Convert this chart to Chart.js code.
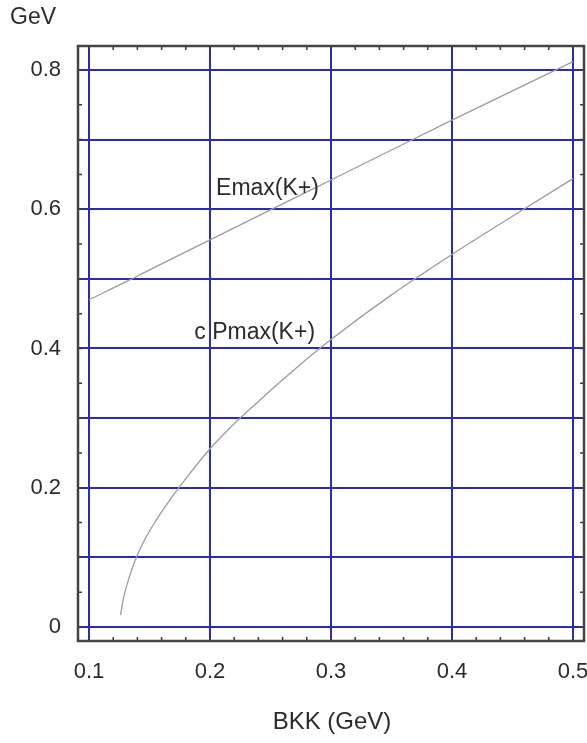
<!DOCTYPE html>
<html>
<head>
<meta charset="utf-8">
<script src="https://cdn.jsdelivr.net/npm/chart.js@4/dist/chart.umd.min.js"></script>
<style>
  html, body { margin: 0; padding: 0; background: #fff; }
  #wrap { width: 587px; height: 743px; }
</style>
</head>
<body>
<div id="wrap"><canvas id="chart" width="587" height="743"></canvas></div>
<script>
// Data
const xTicks = [0.1, 0.2, 0.3, 0.4, 0.5];
const yTicks = [0, 0.1, 0.2, 0.3, 0.4, 0.5, 0.6, 0.7, 0.8];

const emaxX = [0.1, 0.132, 0.15, 0.2, 0.25, 0.3, 0.35, 0.4, 0.45, 0.5];
const emaxY = [0.47, 0.497, 0.513, 0.556, 0.599, 0.642, 0.685, 0.728, 0.770, 0.812];

const pmaxX = [0.126, 0.129, 0.133, 0.138, 0.145, 0.155, 0.165, 0.18, 0.2, 0.22, 0.24, 0.26, 0.28, 0.3, 0.35, 0.4, 0.45, 0.5];
const pmaxY = [0.017, 0.045, 0.07, 0.095, 0.122, 0.152, 0.178, 0.213, 0.256, 0.292, 0.324, 0.355, 0.385, 0.413, 0.477, 0.535, 0.59, 0.644];

const labels = [
  { text: "Emax(K+)", x: 0.205, y: 0.630 },
  { text: "c Pmax(K+)", x: 0.187, y: 0.423 }
];

const FONT = "'Liberation Sans', Arial, sans-serif";
const TXT = "#2b2b2b";
const GRID = "#2c2cb0";

function pts(xs, ys) {
  return xs.map((x, i) => ({ x: x, y: ys[i] }));
}

// frame, inward minor ticks, free text
const decor = {
  id: "decor",
  afterDatasetsDraw(chart) {
    const ctx = chart.ctx;
    const a = chart.chartArea;
    const xs = chart.scales.x, ys = chart.scales.y;
    ctx.save();
    ctx.strokeStyle = "#3a3a3a";
    ctx.lineWidth = 1.5;
    ctx.beginPath();
    for (let v = 0.1; v <= 0.5001; v += 0.02) {
      const p = xs.getPixelForValue(v);
      ctx.moveTo(p, a.bottom); ctx.lineTo(p, a.bottom - 4);
      ctx.moveTo(p, a.top); ctx.lineTo(p, a.top + 4);
    }
    for (let v = 0; v <= 0.8001; v += 0.05) {
      const p = ys.getPixelForValue(v);
      ctx.moveTo(a.left, p); ctx.lineTo(a.left + 4, p);
      ctx.moveTo(a.right, p); ctx.lineTo(a.right - 4, p);
    }
    ctx.stroke();
    ctx.lineWidth = 2.5;
    ctx.strokeStyle = "#444";
    ctx.strokeRect(a.left, a.top, a.right - a.left, a.bottom - a.top);

    ctx.fillStyle = TXT;
    ctx.font = "23px " + FONT;
    ctx.textBaseline = "middle";
    ctx.textAlign = "left";
    labels.forEach(l => {
      ctx.fillText(l.text, xs.getPixelForValue(l.x), ys.getPixelForValue(l.y));
    });
    ctx.font = "23px " + FONT;
    ctx.fillText("GeV", 10, 18);
    ctx.textAlign = "center";
    ctx.font = "24px " + FONT;
    ctx.fillText("BKK (GeV)", 332, 722);
    ctx.restore();
  }
};

new Chart(document.getElementById("chart"), {
  type: "scatter",
  data: {
    datasets: [
      {
        label: "Emax(K+)",
        data: pts(emaxX, emaxY),
        showLine: true,
        borderColor: "#9c9c9c",
        borderWidth: 1.3,
        pointRadius: 0,
        cubicInterpolationMode: "monotone"
      },
      {
        label: "c Pmax(K+)",
        data: pts(pmaxX, pmaxY),
        showLine: true,
        borderColor: "#9c9c9c",
        borderWidth: 1.3,
        pointRadius: 0,
        cubicInterpolationMode: "monotone"
      }
    ]
  },
  options: {
    responsive: false,
    animation: false,
    layout: { padding: { top: 46, right: 3, left: 0, bottom: 0 } },
    plugins: { legend: { display: false }, tooltip: { enabled: false } },
    scales: {
      x: {
        type: "linear",
        min: 0.0909,
        max: 0.5091,
        afterBuildTicks(scale) { scale.ticks = xTicks.map(v => ({ value: v })); },
        afterFit(scale) {
          scale.height = 102;
          scale.paddingLeft = 0;
          scale.paddingRight = 0;
        },
        grid: { color: GRID, lineWidth: 2, drawTicks: false },
        border: { display: false },
        ticks: {
          padding: 18,
          color: TXT,
          font: { family: FONT, size: 22 },
          maxRotation: 0,
          callback: v => String(v)
        }
      },
      y: {
        type: "linear",
        min: -0.0201,
        max: 0.8344,
        afterBuildTicks(scale) { scale.ticks = yTicks.map(v => ({ value: v })); },
        afterFit(scale) {
          scale.width = 78;
          scale.paddingTop = 0;
          scale.paddingBottom = 0;
        },
        grid: { color: GRID, lineWidth: 2, drawTicks: false },
        border: { display: false },
        ticks: {
          padding: 17,
          color: TXT,
          font: { family: FONT, size: 22 },
          callback: v => {
            const k = Math.round(v * 10);
            if (k % 2 !== 0) return "";
            return k === 0 ? "0" : (k / 10).toFixed(1);
          }
        }
      }
    }
  },
  plugins: [decor]
});
</script>
</body>
</html>
